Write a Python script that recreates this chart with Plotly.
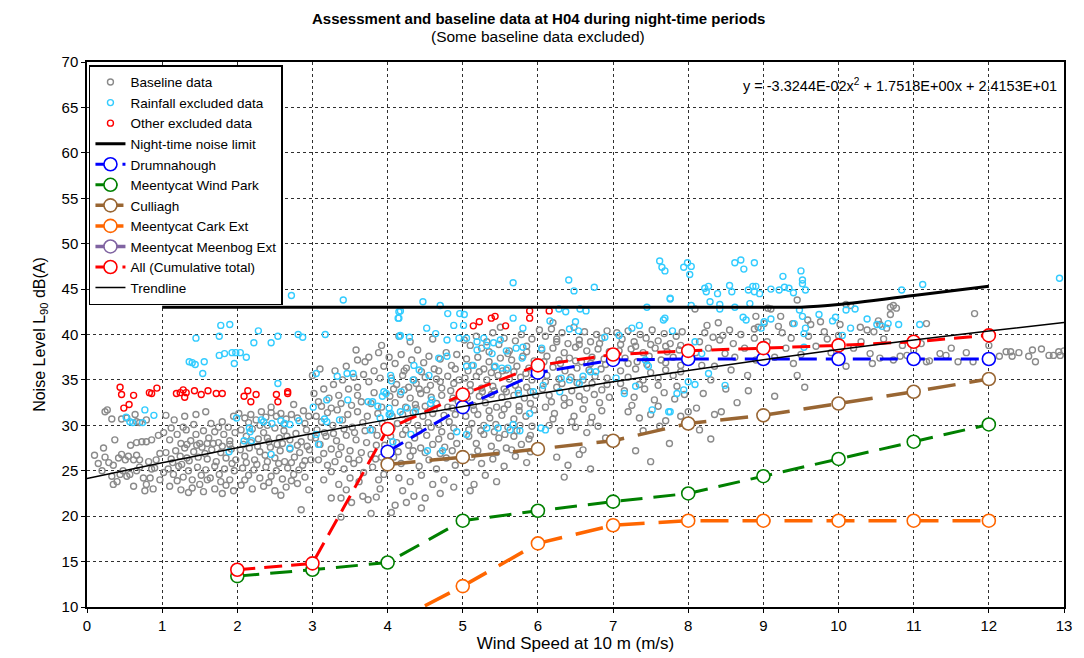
import plotly.graph_objects as go

# ---------------- data ----------------
baseline_pts = [
(0.24,31.5),(0.27,31.7),(0.33,30.7),(0.46,30.7),(0.53,30.8),(0.1,26.7),(0.22,27.5),(0.37,28.4),(0.24,26.5),(0.29,25.9),
(0.35,25.6),(0.42,26.4),(0.46,26.8),(0.51,26.2),(0.55,26.6),(0.62,26.2),(0.66,26.7),(0.70,26.2),(0.33,24.4),(0.35,23.5),
(0.44,24.6),(0.48,25.0),(0.53,24.4),(0.57,24.6),(0.62,23.3),(0.66,25.0),(0.70,25.4),(0.75,24.2),(0.77,22.8),(0.79,23.5),
(0.84,24.2),(0.86,25.2),(0.90,25.3),(0.92,26.2),(0.95,28.9),(0.66,28.1),(0.73,28.2),(0.79,28.2),(0.86,28.4),(0.66,30.4),
(0.79,30.6),(0.64,31.2),(0.70,30.3),(0.2,25.0),(0.15,25.8),(0.58,27.8),(0.82,26.0),(0.40,23.8),(0.88,23.0),(0.97,24.0),(0.97,26.9),
(1.05,31.1),(1.16,30.6),(1.3,31.0),(1.45,31.2),(1.58,31.5),(1.8,30.4),(1.95,31.0),(1.02,29.2),(1.1,28.4),(1.2,29.0),
(1.25,28.0),(1.32,29.5),(1.38,28.3),(1.45,29.0),(1.5,28.0),(1.55,29.4),(1.62,28.6),(1.7,29.3),(1.75,28.1),(1.82,29.0),
(1.9,28.3),(1.97,29.2),(1.05,27.0),(1.12,26.3),(1.18,27.2),(1.24,26.6),(1.3,27.5),(1.36,26.1),(1.42,27.1),(1.48,26.5),
(1.53,27.6),(1.6,26.3),(1.66,27.3),(1.72,26.0),(1.78,27.0),(1.85,26.4),(1.92,27.4),(1.98,26.2),(1.08,25.2),(1.15,24.6),
(1.22,25.5),(1.28,24.3),(1.35,25.0),(1.4,24.0),(1.47,25.4),(1.52,24.5),(1.58,25.1),(1.64,24.2),(1.7,25.5),(1.76,24.6),
(1.83,25.2),(1.9,24.0),(1.96,25.0),(1.1,23.3),(1.25,22.9),(1.4,23.1),(1.55,22.7),(1.7,23.0),(1.85,23.4),(1.95,22.8),
(1.35,22.6),(1.8,22.5),(1.6,28.0),(1.28,29.8),
(1.02,24.8),(1.14,25.9),(1.26,25.7),(1.33,27.9),(1.46,27.8),(1.57,26.9),(1.68,28.0),(1.8,27.7),(1.93,25.8),(1.12,29.7),
(1.42,30.1),(1.65,30.2),(1.88,29.8),(1.2,23.9),(1.5,23.5),(1.78,23.8),(1.6,24.0),(1.33,26.4),(1.75,29.8),(1.9,27.9),
(2.02,31.3),(2.1,30.8),(2.18,31.2),(2.25,30.6),(2.32,31.5),(2.38,30.9),(2.45,31.4),(2.52,31.0),(2.58,31.3),(2.65,30.7),
(2.72,31.2),(2.8,30.8),(2.88,31.6),(2.95,31.0),(2.05,29.5),(2.12,28.8),(2.2,29.6),(2.28,28.5),(2.35,29.2),(2.42,28.2),
(2.5,29.7),(2.56,28.6),(2.62,29.4),(2.7,28.4),(2.78,29.1),(2.85,28.2),(2.92,29.5),(2.98,28.7),(2.04,27.3),(2.1,26.6),
(2.16,27.5),(2.23,26.2),(2.3,27.1),(2.37,26.7),(2.44,27.6),(2.5,26.4),(2.57,27.2),(2.63,26.0),(2.7,27.4),(2.76,26.5),
(2.83,27.0),(2.9,26.1),(2.96,27.3),(2.07,25.3),(2.15,24.5),(2.22,25.1),(2.3,24.2),(2.38,25.4),(2.45,24.4),(2.52,25.0),
(2.6,24.1),(2.67,25.3),(2.75,24.6),(2.82,25.1),(2.9,24.3),(2.05,23.4),(2.2,23.0),(2.35,23.3),(2.5,22.8),(2.65,23.2),
(2.8,23.6),(2.95,22.9),(2.85,20.7),(2.45,32.0),(2.75,32.3),(2.6,28.0),(2.4,30.0),
(2.08,27.9),(2.18,28.1),(2.27,27.7),(2.4,28.6),(2.53,27.9),(2.66,28.8),(2.8,27.8),(2.93,27.7),(2.12,25.9),(2.26,25.7),
(2.4,26.0),(2.55,25.8),(2.72,25.9),(2.87,25.6),(2.98,26.2),(2.1,24.0),(2.42,23.7),(2.72,23.9),(2.58,22.3),(2.3,30.0),
(2.62,30.1),(2.9,30.2),(2.15,30.3),
(3.02,33.5),(3.08,32.6),(3.15,34.0),(3.22,33.0),(3.28,34.5),(3.35,33.3),(3.4,35.0),(3.48,34.0),(3.55,35.3),(3.6,34.2),
(3.68,35.6),(3.75,34.8),(3.82,36.0),(3.9,35.2),(3.95,36.5),(3.45,36.5),(3.6,37.2),(3.75,37.5),(3.88,38.0),(3.58,38.3),
(3.7,37.0),(3.92,38.8),(3.3,36.0),(3.05,31.0),(3.12,30.4),(3.2,31.4),(3.27,30.0),(3.33,31.7),(3.4,30.6),(3.47,31.2),
(3.53,29.8),(3.6,31.5),(3.67,30.3),(3.73,31.0),(3.8,29.5),(3.87,31.3),(3.93,30.2),(3.04,28.6),(3.1,27.9),(3.18,28.8),
(3.25,27.4),(3.32,28.3),(3.38,27.6),(3.45,28.9),(3.5,27.2),(3.58,28.4),(3.65,27.0),(3.72,28.1),(3.78,26.8),(3.85,27.8),
(3.92,26.5),(3.08,26.2),(3.2,25.6),(3.3,26.0),(3.42,25.2),(3.55,25.8),(3.68,24.8),(3.8,25.4),(3.95,24.6),(3.15,24.0),
(3.35,23.5),(3.5,24.2),(3.25,22.0),(3.38,22.0),(3.52,21.5),(3.38,19.9),(3.67,22.2),(3.74,21.8),(3.85,22.1),(3.78,20.3),
(3.9,23.0),(3.62,23.8),(3.0,35.5),(3.1,36.2),
(3.06,29.5),(3.16,29.2),(3.28,29.1),(3.42,29.6),(3.56,29.2),(3.7,29.4),(3.86,28.9),(3.12,32.1),(3.25,31.9),(3.38,32.4),
(3.52,32.2),(3.65,32.6),(3.78,32.4),(3.92,32.0),(3.15,26.9),(3.35,26.8),(3.48,26.3),(3.62,26.2),(3.84,26.3),(3.96,27.8),
(3.45,22.9),(3.25,24.9),(3.88,24.0),(3.6,33.3),(3.82,33.6),
(4.02,37.5),(4.1,36.8),(4.18,37.8),(4.25,36.3),(4.32,37.2),(4.4,38.3),(4.48,36.9),(4.55,37.6),(4.62,36.2),(4.7,37.3),
(4.78,38.0),(4.85,36.6),(4.92,37.8),(4.05,35.2),(4.12,34.5),(4.2,35.5),(4.28,34.2),(4.35,35.0),(4.42,34.0),(4.5,35.3),
(4.57,34.4),(4.65,35.1),(4.72,34.1),(4.8,35.4),(4.88,34.6),(4.95,35.0),(4.03,33.2),(4.1,32.5),(4.17,33.4),(4.24,32.0),
(4.3,33.0),(4.37,32.3),(4.44,33.5),(4.5,32.1),(4.58,33.1),(4.65,32.4),(4.72,33.3),(4.8,32.0),(4.87,33.0),(4.94,32.6),
(4.06,31.0),(4.13,30.2),(4.2,31.2),(4.27,30.5),(4.34,31.4),(4.4,30.0),(4.47,31.0),(4.54,30.3),(4.6,31.3),(4.68,30.1),
(4.75,31.1),(4.82,30.4),(4.9,31.2),(4.04,28.8),(4.12,28.1),(4.2,29.0),(4.28,27.8),(4.36,28.6),(4.44,27.5),(4.52,28.9),
(4.6,27.9),(4.68,28.5),(4.76,27.6),(4.84,28.8),(4.92,28.0),(4.08,26.5),(4.18,25.8),(4.3,26.6),(4.42,25.5),(4.55,26.2),
(4.65,25.2),(4.78,26.4),(4.9,25.6),(4.15,24.2),(4.3,23.8),(4.45,24.5),(4.6,23.5),(4.75,24.0),(4.88,23.2),(4.2,22.8),
(4.35,22.2),(4.1,21.2),(4.25,21.5),(4.5,22.0),(4.7,22.5),(4.05,20.4),(4.45,20.9),(4.3,39.2),(4.6,39.5),(4.15,39.8),
(4.08,34.0),(4.22,33.9),(4.38,34.6),(4.52,33.9),(4.7,34.8),(4.84,33.8),(4.06,29.7),(4.24,29.5),(4.42,29.4),(4.58,29.8),
(4.72,29.3),(4.88,29.7),(4.14,27.1),(4.34,27.2),(4.5,27.0),(4.7,26.9),(4.86,27.2),(4.22,36.0),(4.45,35.9),(4.68,36.0),
(4.9,36.2),(4.38,31.9),(4.62,31.8),(4.86,31.9),
(5.02,39.4),(5.1,38.8),(5.18,39.8),(5.25,38.5),(5.32,39.2),(5.4,40.2),(5.48,38.9),(5.55,39.6),(5.62,38.2),(5.7,39.3),
(5.78,40.0),(5.85,38.7),(5.92,39.5),(5.05,37.3),(5.12,36.6),(5.2,37.5),(5.28,36.2),(5.35,37.0),(5.42,36.4),(5.5,37.4),
(5.58,36.1),(5.65,37.2),(5.72,36.5),(5.8,37.6),(5.88,36.3),(5.95,37.1),(5.03,35.2),(5.1,34.5),(5.18,35.4),(5.25,34.1),
(5.32,35.0),(5.4,34.3),(5.47,35.5),(5.55,34.0),(5.62,35.1),(5.7,34.4),(5.77,35.3),(5.85,34.2),(5.92,35.0),(5.06,33.0),
(5.14,32.2),(5.22,33.2),(5.3,32.5),(5.38,33.4),(5.45,32.0),(5.52,33.1),(5.6,32.3),(5.68,33.3),(5.75,32.1),(5.82,33.0),
(5.9,32.4),(5.97,33.3),(5.04,31.0),(5.12,30.2),(5.2,31.2),(5.28,30.0),(5.36,30.8),(5.44,30.1),(5.52,31.1),(5.6,29.8),
(5.68,30.7),(5.76,30.0),(5.84,31.0),(5.92,29.9),(5.08,28.8),(5.18,28.0),(5.28,29.0),(5.38,27.7),(5.48,28.6),(5.58,27.5),
(5.68,28.8),(5.78,27.9),(5.88,28.5),(5.12,26.5),(5.25,25.8),(5.4,26.3),(5.55,25.5),(5.7,26.6),(5.85,25.9),(5.3,24.5),
(5.15,23.5),(5.05,24.8),(5.45,23.8),(5.1,22.8),(5.5,40.8),
(5.07,36.0),(5.22,35.9),(5.38,35.8),(5.53,36.0),(5.68,35.9),(5.84,35.7),(5.1,33.8),(5.26,33.7),(5.42,33.8),(5.58,33.7),
(5.74,33.9),(5.9,33.7),(5.08,29.5),(5.24,29.4),(5.42,29.3),(5.56,29.0),(5.72,29.4),(5.9,28.9),(5.15,31.7),(5.35,31.6),
(5.55,31.8),(5.75,31.6),(5.95,31.7),(5.2,27.2),(5.45,27.0),(5.65,27.3),(5.9,27.1),(5.35,38.1),(5.6,37.9),(5.85,38.1),
(6.02,40.5),(6.1,39.8),(6.18,40.6),(6.25,39.5),(6.32,40.2),(6.4,39.0),(6.48,40.8),(6.55,39.4),(6.62,40.3),(6.7,39.2),
(6.78,40.0),(6.85,39.6),(6.92,40.4),(6.05,38.3),(6.12,37.6),(6.2,38.5),(6.28,37.2),(6.35,38.0),(6.42,37.4),(6.5,38.6),
(6.58,37.0),(6.65,38.2),(6.72,37.5),(6.8,38.4),(6.88,37.3),(6.95,38.1),(6.04,36.2),(6.12,35.5),(6.2,36.4),(6.28,35.1),
(6.36,36.0),(6.44,35.3),(6.52,36.3),(6.6,35.0),(6.68,36.1),(6.76,35.4),(6.84,36.2),(6.92,35.2),(6.06,34.0),(6.15,33.3),
(6.25,34.2),(6.35,33.0),(6.45,33.8),(6.55,33.2),(6.65,34.1),(6.75,33.4),(6.85,33.9),(6.95,33.1),(6.1,32.0),(6.22,31.3),
(6.35,32.2),(6.48,31.0),(6.6,31.8),(6.72,30.9),(6.85,31.6),(6.15,30.0),(6.3,29.4),(6.5,29.8),(6.65,29.2),(6.8,29.9),
(6.25,26.5),(6.4,25.6),(6.55,26.8),(6.7,25.2),(6.35,24.3),(6.6,27.3),(6.9,28.6),(6.2,41.3),
(6.08,37.0),(6.3,36.8),(6.5,37.1),(6.7,36.8),(6.9,36.7),(6.1,34.8),(6.32,34.6),(6.52,34.7),(6.72,34.6),(6.92,34.5),
(6.18,32.6),(6.42,32.5),(6.62,32.8),(6.82,32.5),(6.25,39.2),(6.55,38.9),(6.82,39.0),(6.2,30.7),(6.45,30.4),(6.7,30.3),
(7.05,40.2),(7.12,39.5),(7.2,40.4),(7.28,39.2),(7.36,40.0),(7.44,39.6),(7.52,40.5),(7.6,39.3),(7.68,40.1),(7.76,39.0),
(7.84,39.8),(7.92,40.3),(7.08,38.2),(7.16,37.4),(7.24,38.4),(7.32,37.0),(7.4,38.0),(7.48,37.6),(7.56,38.5),(7.64,37.2),
(7.72,38.1),(7.8,37.5),(7.88,38.3),(7.96,37.1),(7.1,36.0),(7.2,35.3),(7.3,36.2),(7.4,35.0),(7.5,35.8),(7.6,35.2),
(7.7,36.1),(7.8,35.5),(7.9,35.9),(7.15,33.8),(7.28,33.1),(7.42,34.0),(7.55,32.8),(7.68,33.6),(7.82,32.9),(7.95,33.4),
(7.2,31.5),(7.35,30.8),(7.5,31.2),(7.7,30.5),(7.9,31.0),(7.4,29.4),(7.62,29.9),(7.3,27.2),(7.5,26.0),(7.75,28.0),
(7.1,38.9),(7.3,38.7),(7.5,38.9),(7.7,38.7),(7.9,38.8),(7.1,34.6),(7.35,34.5),(7.6,34.4),(7.85,34.3),(7.2,36.8),
(7.45,36.7),(7.7,36.9),(7.9,36.6),(7.25,32.2),(7.6,32.1),
(8.33,39.7),(8.46,39.9),(8.42,39.4),(8.27,38.5),(8.49,37.9),(8.18,36.6),(8.35,36.5),(8.05,37.4),(8.57,36.1),(8.79,35.5),
(8.0,31.5),(8.11,31.9),(8.35,31.2),(8.44,31.5),(8.88,40.6),(8.93,40.8),(8.88,39.6),(8.15,39.2),(8.22,40.2),(8.6,39.0),
(8.7,40.0),(8.75,38.5),(8.62,37.5),(8.55,40.5),(8.25,41.0),(8.4,41.3),(8.1,38.0),(8.3,35.0),(8.5,34.0),(8.2,33.5),
(8.65,32.5),(8.8,33.8),(8.9,37.2),(8.95,38.4),(8.09,42.8),(8.9,42.0),(8.3,28.5),(8.15,29.5),
(9.06,42.9),(9.1,42.8),(9.23,42.0),(9.2,40.9),(9.01,41.2),(9.39,41.2),(9.63,41.1),(9.76,41.4),(9.81,40.3),(9.45,43.8),
(9.59,41.6),(9.37,39.6),(9.3,38.5),(9.5,37.8),(9.7,38.7),(9.85,39.5),(9.6,39.8),(9.15,37.5),(9.4,36.8),(9.45,35.5),
(9.9,38.0),(9.05,39.2),(9.25,40.2),(9.15,33.2),(9.55,34.2),
(10.1,43.3),(10.16,43.2),(10.73,43.2),(10.77,42.9),(10.69,43.0),(10.02,41.1),(10.0,39.9),(10.29,40.8),(10.38,40.5),(10.47,40.3),
(10.53,41.5),(10.55,41.1),(10.64,40.7),(10.69,42.2),(10.42,37.9),(10.55,37.4),(10.73,37.2),(10.82,37.6),(10.91,37.7),(11.17,37.0),
(11.21,37.1),(11.17,41.2),(10.2,38.5),(10.3,39.2),(10.6,39.5),(10.85,38.8),(10.1,36.5),(10.45,36.8),
(11.35,37.9),(11.43,37.7),(11.59,37.0),(11.81,42.3),(12.14,37.6),(12.23,38.1),(12.29,38.1),(12.31,37.6),(12.53,37.6),(12.58,38.3),
(12.62,37.0),(12.8,37.7),(12.86,37.7),(12.93,38.1),(12.95,37.7),(11.79,37.0),(11.0,38.3),(11.1,39.0),(11.5,38.5),(11.7,38.0),
(12.0,38.8),(12.4,38.0),(12.7,38.4),(13.0,38.2),(12.0,37.2),
]

rainfall_pts = [
(2.48,44.9),(2.72,44.3),(3.41,43.8),(1.78,41.0),(1.9,41.1),(1.45,39.6),(1.76,39.8),(2.28,40.4),(2.22,39.1),(2.45,39.1),
(2.54,39.8),(2.81,40.0),(2.87,39.7),(3.17,40.0),(1.36,37.0),(1.4,36.9),(1.44,36.7),(1.56,37.0),(1.76,37.7),(1.83,37.9),
(1.93,38.0),(1.98,38.0),(2.04,38.0),(2.12,37.5),(1.96,36.8),(1.54,35.7),(3.05,35.7),(3.33,35.4),(3.46,35.7),(3.54,35.7),
(2.54,34.6),(0.52,30.9),(0.57,30.4),(0.61,30.3),(0.77,31.7),(0.89,31.1),(0.74,30.3),(1.99,30.8),(2.09,28.3),(2.16,29.7),
(2.17,29.3),(2.19,28.3),(2.32,30.6),(2.35,30.4),(2.46,30.2),(2.58,30.5),(2.63,30.2),(2.70,30.1),(2.82,30.5),(2.45,26.8),
(1.89,27.1),(2.7,27.5),(3.19,32.8),(3.47,32.8),(3.01,32.0),(3.16,30.7),(3.19,30.4),(3.36,30.6),(3.05,29.0),(3.08,27.9),
(3.93,33.2),(3.98,33.5),(4.05,34.9),(4.15,42.5),(4.15,41.8),(4.16,39.8),(3.77,29.5),(3.74,32.6),(3.8,32.6),(3.87,32.1),
(4.04,31.3),(4.17,31.5),(4.02,31.9),
(5.67,45.7),(6.41,46.0),(6.48,44.8),(6.75,45.2),(4.47,43.6),(4.7,43.2),(4.17,42.6),(4.14,41.8),(4.8,42.3),(4.96,42.3),
(5.02,42.2),(4.52,40.7),(4.64,40.1),(4.88,41.0),(5.01,41.0),(4.17,39.9),(4.29,39.7),(4.79,39.4),(4.95,39.6),(5.05,39.6),
(5.67,41.8),(5.8,40.7),(6.16,41.5),(6.28,42.8),(6.37,42.5),(6.5,41.4),(6.56,42.8),(6.64,42.6),(6.42,40.6),(6.54,40.4),
(6.89,39.7),(7.08,39.9),(7.25,40.7),(7.35,41.0),(7.67,41.6),(7.76,44.0),(7.45,43.0),(5.19,39.2),(5.28,39.6),(5.41,39.1),
(5.5,39.4),(5.39,37.9),(5.58,38.2),(5.71,38.5),(5.8,38.6),(5.79,37.4),(6.05,38.5),(5.19,38.3),(5.32,38.8),(5.05,36.5),
(5.14,36.6),(5.43,36.5),(5.52,36.3),(5.6,36.3),(4.79,37.6),(4.68,37.4),(4.35,36.6),(4.42,36.1),(4.04,35.5),(3.95,33.7),
(4.34,35.0),(4.55,35.5),(4.57,32.4),(4.59,32.8),(4.18,33.7),(4.26,31.9),(4.37,31.5),(4.02,31.2),(3.9,30.8),(4.07,28.2),
(4.31,29.0),(4.53,27.2),(4.73,27.2),(4.92,29.3),(5.05,29.0),(5.32,29.7),(5.47,29.7),(5.63,29.5),(5.67,30.1),(5.76,29.4),
(6.04,29.7),(6.1,29.5),(6.29,33.7),(6.31,35.2),(6.42,35.0),(6.55,34.6),(6.6,35.4),(6.7,35.9),(6.77,35.9),(7.04,35.2),
(7.15,33.5),(7.3,34.3),(7.43,37.2),(7.47,36.5),(7.52,31.7),(7.74,31.5),(6.07,34.4),(5.89,31.3),(5.74,33.5),(5.94,33.7),
(7.62,48.1),(7.65,47.4),(7.69,47.0),(7.94,47.4),(7.99,47.9),(8.04,47.5),(8.02,46.6),(8.62,47.9),(8.7,48.2),(8.74,47.2),
(8.88,47.9),(9.26,46.4),(9.5,47.0),(9.52,46.0),(9.52,45.6),(9.56,44.9),(9.4,44.6),(9.34,45.1),(9.28,45.2),(9.21,44.9),
(9.1,45.0),(8.8,44.9),(8.86,45.3),(8.9,45.3),(8.95,44.5),(8.88,44.7),(8.55,45.4),(8.58,44.7),(8.22,45.1),(8.27,45.3),
(8.24,44.7),(8.39,44.5),(8.29,43.6),(8.42,43.3),(8.62,43.0),(8.82,43.4),(7.76,43.9),(8.04,43.2),(8.42,42.8),(8.73,41.9),
(9.1,41.7),(9.41,41.2),(9.48,42.7),(9.52,42.0),(9.56,40.7),(9.54,40.1),(9.74,42.2),(9.92,41.5),(9.96,41.9),(10.1,42.7),
(10.22,42.8),(10.16,40.7),(10.38,41.7),(10.51,41.1),(10.58,40.9),(10.66,41.2),(10.8,41.1),(10.84,44.9),(11.08,41.1),(11.12,45.5),
(12.94,46.2),(7.69,41.8),(7.79,40.4),(8.09,39.2),(8.18,37.9),(8.27,35.7),(8.49,34.4),(7.85,33.5),(7.76,31.5),(8.0,34.8),
(8.09,34.5),(7.94,33.9),(8.77,41.6),(8.97,40.7),(9.01,41.4),(9.54,38.6),(10.05,39.9),
]

other_pts = [
(0.44,34.2),(0.46,33.4),(0.62,33.3),(0.49,31.9),(0.56,32.3),(0.83,33.6),(0.86,33.5),(0.93,34.1),(1.19,33.5),(1.24,33.6),
(1.28,33.9),(1.30,33.1),(1.32,33.6),(1.43,33.8),(1.52,33.4),(1.61,33.8),(1.72,33.5),(1.80,33.5),(2.09,33.2),(2.14,33.8),
(2.18,32.6),(2.25,33.4),(2.52,33.4),(2.54,32.6),(2.67,33.7),(2.67,33.5),
(5.14,40.95),(5.22,41.4),(5.38,41.8),(5.43,42.0),(5.57,40.95),(5.89,42.6),(5.89,41.8),(6.15,42.6),
]

baseline_x = [p[0] for p in baseline_pts]
baseline_y = [p[1] for p in baseline_pts]
rain_x = [p[0] for p in rainfall_pts]
rain_y = [p[1] for p in rainfall_pts]
other_x = [p[0] for p in other_pts]
other_y = [p[1] for p in other_pts]

limit_x = [1, 2, 3, 4, 5, 6, 7, 8, 9, 9.5, 10, 11, 12]
limit_y = [43, 43, 43, 43, 43, 43, 43, 43, 43, 43.0, 43.3, 44.3, 45.3]

ws = [2, 3, 4, 5, 6, 7, 8, 9, 10, 11, 12]
drum_x = [4, 5, 6, 7, 8, 9, 10, 11, 12]
drum_y = [27.1, 32.0, 35.8, 37.2, 37.3, 37.3, 37.3, 37.3, 37.3]
wind_park_y = [13.4, 14.1, 14.9, 19.5, 20.6, 21.6, 22.5, 24.4, 26.3, 28.2, 30.1]
cull_x = [4, 5, 6, 7, 8, 9, 10, 11, 12]
cull_y = [25.7, 26.5, 27.4, 28.3, 30.2, 31.1, 32.4, 33.7, 35.1]
cark_x = [4, 5, 6, 7, 8, 9, 10, 11, 12]
cark_y = [8.0, 12.3, 17.0, 19.0, 19.5, 19.5, 19.5, 19.5, 19.5]
meenbog_x = [4, 5, 6, 7, 8, 9, 10, 11, 12]
meenbog_y = [None] * 9
all_y = [14.1, 14.8, 29.6, 33.4, 36.6, 37.8, 38.2, 38.5, 38.8, 39.2, 39.9]

trend_x = [0, 1, 2, 3, 4, 5, 6, 7, 8, 9, 10, 11, 12, 13]
trend_y = [24.153, 25.872, 27.524, 29.109, 30.628, 32.081, 33.467,
           34.787, 36.040, 37.226, 38.347, 39.400, 40.388, 41.308]
trend_label = "y = -3.3244E-02x<sup>2</sup> + 1.7518E+00x + 2.4153E+01"

FONT = "Liberation Sans, Arial, sans-serif"
NARROW = "Liberation Sans Narrow, Liberation Sans, Arial, sans-serif"

fig = go.Figure()

def scatter_cloud(x, y, color, name):
    fig.add_trace(go.Scatter(
        x=x, y=y, mode="markers", name=name,
        marker=dict(symbol="circle-open", size=6, color=color, line=dict(width=1.4, color=color)),
    ))

scatter_cloud(baseline_x, baseline_y, "#8a8a8a", "Baseline data")
scatter_cloud(rain_x, rain_y, "#33ccff", "Rainfall excluded data")
scatter_cloud(other_x, other_y, "#ff0000", "Other excluded data")

fig.add_trace(go.Scatter(x=limit_x, y=limit_y, mode="lines", name="Night-time noise limit",
                         line=dict(color="black", width=3, shape="spline", smoothing=0.6)))

def series(x, y, color, name, dash, width):
    fig.add_trace(go.Scatter(
        x=x, y=y, mode="lines+markers", name=name,
        line=dict(color=color, width=width, dash=dash),
        marker=dict(symbol="circle", size=13, color="white", line=dict(color=color, width=1.6)),
    ))

series(drum_x, drum_y, "#0000ff", "Drumnahough", "18px,9px", 3)
series(ws, wind_park_y, "#008000", "Meentycat Wind Park", "22px,11px", 3)
series(cull_x, cull_y, "#996633", "Culliagh", "28px,14px", 3.5)
series(cark_x, cark_y, "#ff6600", "Meentycat Cark Ext", "28px,14px", 3.5)
series(meenbog_x, meenbog_y, "#8064a2", "Meentycat Meenbog Ext", "solid", 3.5)
series(ws, all_y, "#ff0000", "All (Cumulative total)", "18px,9px", 3)

fig.add_trace(go.Scatter(x=trend_x, y=trend_y, mode="lines", name="Trendline",
                         line=dict(color="black", width=1.5, shape="spline")))

# equation of the trendline
fig.add_annotation(x=0.9945, y=0.957, xref="paper", yref="paper", xanchor="right", yanchor="middle",
                   text=trend_label, showarrow=False, font=dict(family=FONT, size=14.5, color="black"))

# two-line title
fig.add_annotation(x=0.462, y=1.080, xref="paper", yref="paper", xanchor="center", yanchor="middle",
                   text="<b>Assessment and baseline data at H04 during night-time periods</b>",
                   showarrow=False, font=dict(family=FONT, size=15, color="black"))
fig.add_annotation(x=0.462, y=1.046, xref="paper", yref="paper", xanchor="center", yanchor="middle",
                   text="(Some baseline data excluded)",
                   showarrow=False, font=dict(family=FONT, size=15.5, color="black"))

fig.update_layout(
    width=1084, height=658,
    margin=dict(l=87, r=12, t=62, b=48),
    paper_bgcolor="white", plot_bgcolor="white",
    font=dict(family=FONT, size=14, color="black"),
    showlegend=True,
    legend=dict(x=0.002, y=0.994, xanchor="left", yanchor="top", bgcolor="white",
                bordercolor="black", borderwidth=1.5, font=dict(family=FONT, size=13.5),
                tracegroupgap=0, itemsizing="trace"),
    xaxis=dict(range=[0, 13], dtick=1, tick0=0, showgrid=True, gridcolor="#303030", griddash="dot",
               gridwidth=1, showline=True, linecolor="black", linewidth=1.5, mirror=True,
               ticks="outside", ticklen=4, tickcolor="black", zeroline=False,
               tickfont=dict(family=NARROW, size=15),
               title=dict(text="Wind Speed at 10 m (m/s)", standoff=0,
                          font=dict(family=NARROW, size=17))),
    yaxis=dict(range=[10, 70], dtick=5, tick0=10, showgrid=True, gridcolor="#303030", griddash="dot",
               gridwidth=1, showline=True, linecolor="black", linewidth=1.5, mirror=True,
               ticks="outside", ticklen=4, tickcolor="black", zeroline=False,
               tickfont=dict(family=FONT, size=15),
               title=dict(text="Noise Level L<sub>90</sub> dB(A)", standoff=12,
                          font=dict(family=FONT, size=16))),
)

fig.write_html("out.html")
